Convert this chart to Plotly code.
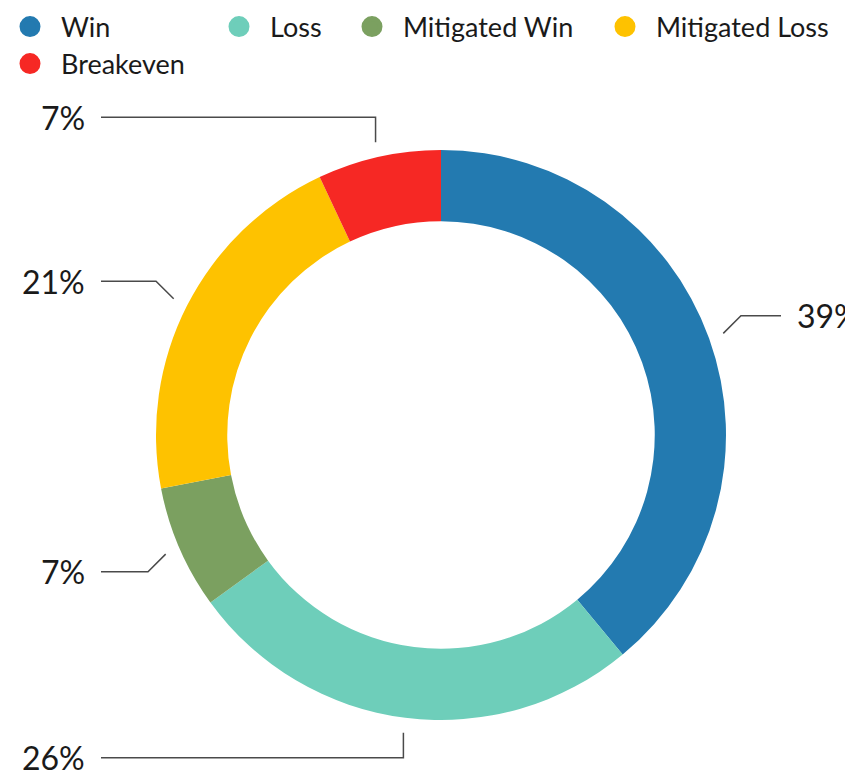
import math
import plotly.graph_objects as go

# ---- data ----
categories = ["Win", "Loss", "Mitigated Win", "Mitigated Loss", "Breakeven"]
values = [39, 26, 7, 21, 7]
colors = ["#237AB0", "#6ECEBA", "#7BA060", "#FEC200", "#F62824"]

# ---- layout constants ----
# the page body adds an 8px margin, so the figure is drawn 8px smaller and
# all pixel positions below are given in window pixels minus that offset
OFF = 8
W, H = 853 - OFF, 770 - OFF
CX, CY, R = 441 - OFF, 435 - OFF, 285
HOLE = 0.75
FONT = "Lato, 'Open Sans', sans-serif"
TEXT_COLOR = "#1a1a1a"
LINE_COLOR = "#4a4a4a"

fig = go.Figure()

fig.add_trace(go.Pie(
    labels=categories, values=values, hole=HOLE, sort=False,
    direction="clockwise", rotation=0,
    marker=dict(colors=colors, line=dict(width=0)),
    textinfo="none", hoverinfo="label+percent", showlegend=False,
    domain=dict(x=[(CX - R) / W, (CX + R) / W],
                y=[1 - (CY + R) / H, 1 - (CY - R) / H]),
))

# leader lines + percentage labels, derived from the slice angles
total = sum(values)
cum = 0.0
for cat, v in zip(categories, values):
    mid = (cum + v / 2) / total * 360.0
    cum += v
    a = math.radians(mid)
    r0 = R + 15
    x0 = CX + r0 * math.sin(a)
    y0 = CY - r0 * math.cos(a)
    # elbow direction: vertical near the poles, diagonal otherwise
    from_top = min(mid % 360, 360 - mid % 360)
    if from_top < 22.5:
        dx, dy = 0.0, -1.0
    elif from_top > 157.5:
        dx, dy = 0.0, 1.0
    else:
        dx = math.copysign(math.sqrt(0.5), math.sin(a))
        dy = -math.copysign(math.sqrt(0.5), math.cos(a))
    seg = 25
    x1 = x0 + seg * dx
    y1 = y0 + seg * dy
    side = 1 if math.sin(a) > 0 else -1
    x2 = CX + side * 340
    fig.add_trace(go.Scatter(
        x=[x0, x1, x2], y=[y0, y1, y1], mode="lines",
        line=dict(color=LINE_COLOR, width=1.5),
        showlegend=False, hoverinfo="skip",
    ))
    fig.add_annotation(
        x=x2 + side * 14, y=y1, xref="x", yref="y",
        text=f"{round(v / total * 100)}%",
        xanchor="left" if side > 0 else "right", yanchor="middle",
        showarrow=False, font=dict(family=FONT, size=32, color=TEXT_COLOR),
    )

# legend: one legend per entry so that the entries sit where the reference puts them
legend_pos = [(30, 27), (239, 27), (372, 27), (625, 27), (30, 64)]
legend_keys = ["legend", "legend2", "legend3", "legend4", "legend5"]
legends = {}
for cat, col, key, (lx, ly) in zip(categories, colors, legend_keys, legend_pos):
    fig.add_trace(go.Scatter(
        x=[None], y=[None], mode="markers", name=cat, legend=key,
        marker=dict(symbol="circle", size=26, color=col, line=dict(color=col, width=5)),
        hoverinfo="skip",
    ))
    legends[key] = dict(
        x=(lx - OFF - 31) / W, y=1 - (ly - OFF) / H, xanchor="left", yanchor="middle",
        orientation="h", itemwidth=52, bgcolor="rgba(0,0,0,0)", borderwidth=0,
        font=dict(family=FONT, size=27, color=TEXT_COLOR),
    )

fig.update_layout(
    width=W, height=H,
    margin=dict(l=0, r=0, t=0, b=0, autoexpand=False),
    paper_bgcolor="white", plot_bgcolor="white",
    xaxis=dict(range=[0, W], visible=False, domain=[0, 1], fixedrange=True),
    yaxis=dict(range=[H, 0], visible=False, domain=[0, 1], fixedrange=True),
    showlegend=True,
    **legends,
)

fig.write_html("out.html")
